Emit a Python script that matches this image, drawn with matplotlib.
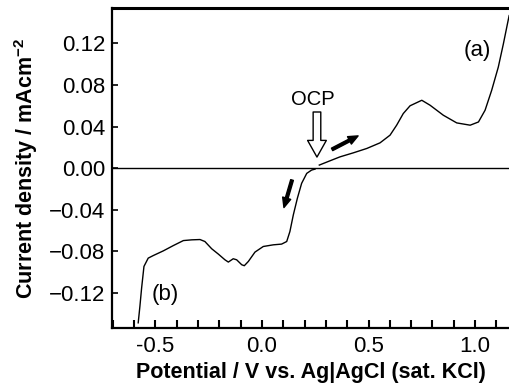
import matplotlib
matplotlib.use('Agg')
import matplotlib.pyplot as plt
from matplotlib.ticker import MultipleLocator, FuncFormatter

plt.rcParams['font.family'] = ['Liberation Sans', 'DejaVu Sans']

# anodic sweep (a), from OCP upwards
pot_a = [0.269, 0.319, 0.366, 0.429, 0.492, 0.554, 0.601, 0.632, 0.663, 0.695,
         0.750, 0.789, 0.851, 0.914, 0.977, 1.016, 1.047, 1.078, 1.109, 1.133,
         1.152, 1.160]
cur_a = [0.0029, 0.0070, 0.0108, 0.0147, 0.0189, 0.0243, 0.0317, 0.0413, 0.0525, 0.0600,
         0.0653, 0.0605, 0.0509, 0.0435, 0.0413, 0.0444, 0.0557, 0.0749, 0.0972, 0.1197,
         0.1389, 0.1468]

# cathodic sweep (b), from OCP downwards
pot_b = [0.249, 0.233, 0.210, 0.186, 0.166, 0.147, 0.131, 0.116, 0.092, 0.053,
         0.006, -0.033, -0.064, -0.083, -0.095, -0.119, -0.135, -0.158, -0.174, -0.205,
         -0.236, -0.268, -0.291, -0.330, -0.369, -0.416, -0.463, -0.510, -0.534, -0.554,
         -0.565, -0.573, -0.581]
cur_b = [-0.0010, -0.0019, -0.0051, -0.0147, -0.0291, -0.0451, -0.0611, -0.0707, -0.0732, -0.0739,
         -0.0755, -0.0809, -0.0899, -0.0940, -0.0931, -0.0883, -0.0873, -0.0905, -0.0883, -0.0828,
         -0.0777, -0.0707, -0.0688, -0.0691, -0.0698, -0.0746, -0.0797, -0.0842, -0.0867, -0.0947,
         -0.1155, -0.1331, -0.1490]

ocp = 0.258

fig = plt.figure(figsize=(5.1, 3.88), dpi=100)
ax = fig.add_axes([0.2196, 0.1546, 0.7804, 0.8244])

ax.axhline(0, color='black', lw=1.0)
ax.plot(pot_a, cur_a, color='black', lw=1.0, solid_joinstyle='round')
ax.plot(pot_b, cur_b, color='black', lw=1.0, solid_joinstyle='round')

# OCP hollow arrow
ax.annotate('', xy=(ocp, 0.0106), xytext=(ocp, 0.054),
            arrowprops=dict(arrowstyle='simple,head_length=12,head_width=13.5,tail_width=5.5',
                            mutation_scale=1, fc='white', ec='black', lw=1.0,
                            shrinkA=0, shrinkB=0))
ax.text(ocp - 0.02, 0.066, 'OCP', ha='center', va='center', fontsize=14.5)

# sweep direction arrows
ax.annotate('', xy=(0.451, 0.031), xytext=(0.329, 0.018),
            arrowprops=dict(arrowstyle='simple,head_length=7,head_width=6,tail_width=2',
                            mutation_scale=1, fc='black', ec='black',
                            shrinkA=0, shrinkB=0))
ax.annotate('', xy=(0.103, -0.038), xytext=(0.141, -0.0115),
            arrowprops=dict(arrowstyle='simple,head_length=7,head_width=6,tail_width=2',
                            mutation_scale=1, fc='black', ec='black',
                            shrinkA=0, shrinkB=0))

ax.text(1.009, 0.113, '(a)', ha='center', va='center', fontsize=16)
ax.text(-0.455, -0.122, '(b)', ha='center', va='center', fontsize=16)

ax.set_xlim(-0.704, 1.164)
ax.set_ylim(-0.154, 0.154)

ax.xaxis.set_major_locator(MultipleLocator(0.5))
ax.xaxis.set_minor_locator(MultipleLocator(0.1))
ax.xaxis.set_major_formatter(FuncFormatter(lambda v, p: '%.1f' % v))
ax.set_yticks([-0.12, -0.08, -0.04, 0.0, 0.04, 0.08, 0.12])
ax.yaxis.set_major_formatter(FuncFormatter(lambda v, p: ('%.2f' % v).replace('-', '\u2212')))

ax.tick_params(axis='x', which='both', direction='in', length=6, width=1.5,
               labelsize=16, pad=6, top=False)
ax.tick_params(axis='y', which='major', direction='in', length=4, width=1.2,
               labelsize=16, pad=5, right=False)

for s in ['left', 'bottom']:
    ax.spines[s].set_linewidth(1.6)
ax.spines['top'].set_linewidth(2.2)
ax.spines['right'].set_visible(False)

ax.set_xlabel('Potential / V vs. Ag|AgCl (sat. KCl)', fontsize=15.5, fontweight='bold', labelpad=3)
ax.set_ylabel('Current density / mAcm$^{\\mathregular{-2}}$', fontsize=15.5, fontweight='bold', labelpad=6)

fig.savefig('out.png', dpi=100)
